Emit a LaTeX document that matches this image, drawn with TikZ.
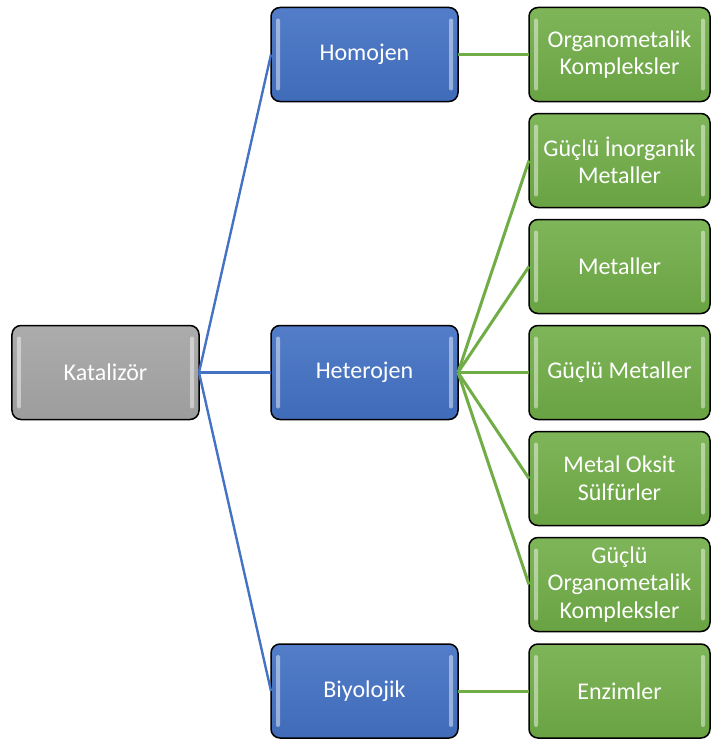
\documentclass[tikz,border=0pt]{standalone}
\usepackage{fontspec}
\setmainfont{Carlito}
\usepackage{tikz}
\usetikzlibrary{positioning}
\usepackage{xcolor}
\definecolor{katgrey}{RGB}{165,165,165}
\definecolor{katblue}{RGB}{68,114,196}
\definecolor{katgreen}{RGB}{112,173,71}

\tikzset{
  glossbox/.style={draw=black, line width=1.5pt, rounded corners=9pt, minimum height=94pt, outer sep=0pt, align=center, text=white, inner sep=2pt,
    font=\fontsize{24}{27.5}\selectfont,
    path picture={
      \fill[white, opacity=0.45, rounded corners=2pt] ([xshift=5pt,yshift=-11pt]path picture bounding box.north west) rectangle ([xshift=9pt,yshift=11pt]path picture bounding box.south west);
      \fill[white, opacity=0.45, rounded corners=2pt] ([xshift=-9pt,yshift=-11pt]path picture bounding box.north east) rectangle ([xshift=-5pt,yshift=11pt]path picture bounding box.south east);
    }},
  greybox/.style={glossbox, minimum width=187pt, top color=katgrey!92!white, bottom color=katgrey!95!black},
  bluebox/.style={glossbox, minimum width=187pt, top color=katblue!92!white, bottom color=katblue!94!black},
  greenbox/.style={glossbox, minimum width=181pt, top color=katgreen!90!white, bottom color=katgreen!94!black},
  blueline/.style={draw=katblue, line width=2.4pt},
  greenline/.style={draw=katgreen, line width=3pt}
}

\begin{document}
\begin{tikzpicture}
\useasboundingbox (-105.5pt,372.5pt) rectangle (605.5pt,-367.5pt);

\node[greybox] (kat) at (0,0) {Katalizör};
\node[bluebox, right=72pt of kat] (hetero) {Heterojen};

\node[greenbox, right=71pt of hetero] (gmetal) {Güçlü Metaller};
\node[greenbox, above=12pt of gmetal] (metal) {Metaller};
\node[greenbox, above=12pt of metal] (ginorg) {Güçlü İnorganik\\Metaller};
\node[greenbox, above=12pt of ginorg] (organo) {Organometalik\\Kompleksler};
\node[greenbox, below=12pt of gmetal] (oksit) {Metal Oksit\\Sülfürler};
\node[greenbox, below=12pt of oksit] (gorgano) {Güçlü\\Organometalik\\Kompleksler};
\node[greenbox, below=12.5pt of gorgano] (enzim) {Enzimler};

\node[bluebox, left=71pt of organo] (homo) {Homojen};
\node[bluebox, left=71pt of enzim] (biyo) {Biyolojik};

\draw[blueline] (kat.east) -- (homo.west);
\draw[blueline] (kat.east) -- (hetero.west);
\draw[blueline] (kat.east) -- (biyo.west);

\draw[greenline] (homo.east) -- (organo.west);
\foreach \t in {ginorg,metal,gmetal,oksit,gorgano}
  \draw[greenline] (hetero.east) -- (\t.west);
\draw[greenline] (biyo.east) -- (enzim.west);
\end{tikzpicture}
\end{document}
